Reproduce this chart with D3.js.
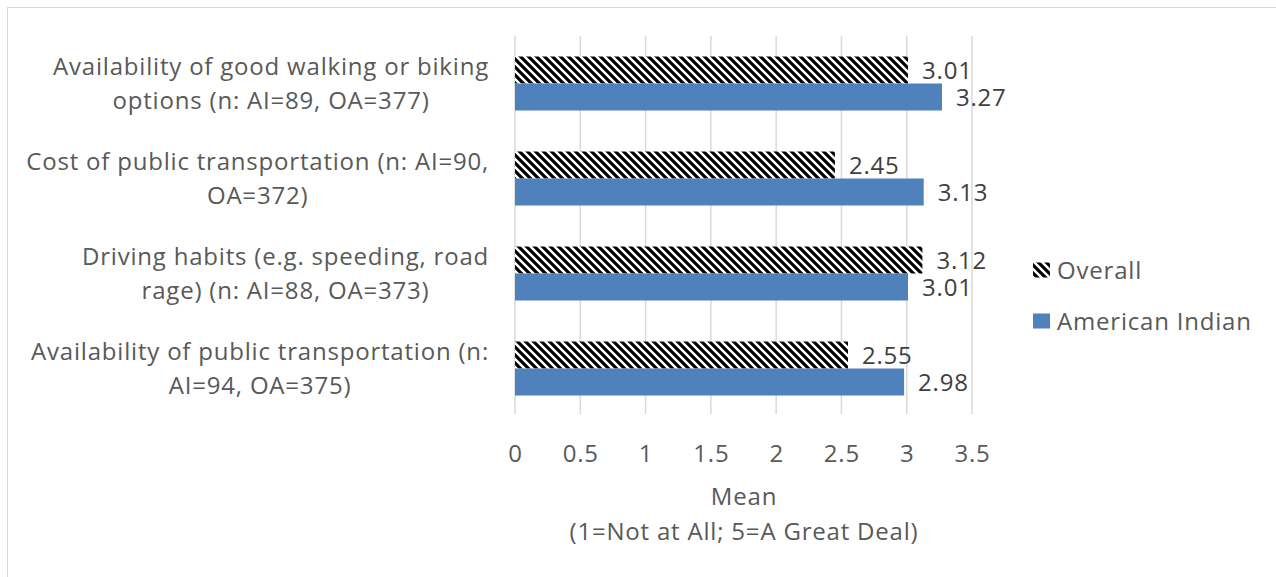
<!DOCTYPE html>
<html><head><meta charset="utf-8">
<script src="https://cdn.jsdelivr.net/npm/d3@7"></script>
<style>body{margin:0;background:#fff;} svg{display:block;font-family:"Open Sans",sans-serif;letter-spacing:0.8px;}</style>
</head><body><svg id="c" width="1276" height="577"></svg>
<script>
const categories = [
  ["Availability of good walking or biking", "options (n: AI=89, OA=377)"],
  ["Cost of public transportation (n: AI=90,", "OA=372)"],
  ["Driving habits (e.g. speeding, road", "rage) (n: AI=88, OA=373)"],
  ["Availability of public transportation (n:", "AI=94, OA=375)"]
];
const seriesNames = ["Overall", "American Indian"];
const overall = [3.01, 2.45, 3.12, 2.55];
const americanIndian = [3.27, 3.13, 3.01, 2.98];
const xTicks = [0, 0.5, 1, 1.5, 2, 2.5, 3, 3.5];
const xTitle = ["Mean", "(1=Not at All; 5=A Great Deal)"];

const FS = 24;
const svg = d3.select("#c");
const defs = svg.append("defs");
const pat = defs.append("pattern").attr("id","stripe").attr("patternUnits","userSpaceOnUse")
  .attr("width",8).attr("height",8);
pat.append("rect").attr("width",8).attr("height",8).attr("fill","#fff");
pat.append("path").attr("d","M-2,-2 L10,10 M-2,6 L2,10 M6,-2 L10,2").attr("stroke","#000").attr("stroke-width",3.2);

svg.append("rect").attr("x",7.5).attr("y",7.5).attr("width",1300).attr("height",600)
  .attr("fill","none").attr("stroke","#d9d9d9");

const x = d3.scaleLinear().domain([0,3.5]).range([515,972]);
const y = d3.scaleBand().domain(d3.range(categories.length)).range([36,416]);
const barH = 27;
const txt = "#595959";

// gridlines
svg.append("g").selectAll("line").data(xTicks).join("line")
  .attr("x1",d=>x(d)).attr("x2",d=>x(d)).attr("y1",36).attr("y2",414)
  .attr("stroke","#d9d9d9").attr("stroke-width",1.5);

// axis labels
const ax = d3.axisBottom(x).tickValues(xTicks).tickSize(0).tickPadding(0).tickFormat(d3.format(""));
const axG = svg.append("g").attr("transform","translate(0,454)").call(ax);
axG.select(".domain").remove();
axG.selectAll("text").attr("font-size",FS).attr("fill",txt).attr("font-family","Open Sans").attr("dy","0.35em");

// bars
const bars = svg.append("g");
categories.forEach((c,i)=>{
  const cy = y(i) + y.bandwidth()/2;
  bars.append("rect").attr("x",x(0)).attr("y",cy-barH).attr("width",x(overall[i])-x(0)).attr("height",barH)
    .attr("fill","url(#stripe)");
  bars.append("rect").attr("x",x(0)).attr("y",cy).attr("width",x(americanIndian[i])-x(0)).attr("height",barH)
    .attr("fill","#4F81BD");
  bars.append("text").attr("x",x(overall[i])+14).attr("y",cy-barH/2+1).attr("dy","0.35em")
    .attr("font-size",FS).attr("fill","#404040").text(overall[i].toFixed(2));
  bars.append("text").attr("x",x(americanIndian[i])+14).attr("y",cy+barH/2+1).attr("dy","0.35em")
    .attr("font-size",FS).attr("fill","#404040").text(americanIndian[i].toFixed(2));
  const t = svg.append("text").attr("text-anchor","middle").attr("font-size",FS).attr("fill",txt);
  const spans = c.map((ln,j)=> t.append("tspan").attr("y",cy-16.5+j*33.5).attr("dy","0.35em").text(ln));
  const maxW = d3.max(spans, s=>s.node().getComputedTextLength());
  spans.forEach(s=>s.attr("x",489 - maxW/2));
});

// x title
xTitle.forEach((t,j)=>{
  svg.append("text").attr("x",744).attr("y",497+j*35).attr("dy","0.35em").attr("text-anchor","middle")
    .attr("font-size",FS).attr("fill",txt).text(t);
});

// legend
const lg = svg.append("g");
const fills = ["url(#stripe)","#4F81BD"];
seriesNames.forEach((s,i)=>{
  const ly = 270 + i*51;
  lg.append("rect").attr("x",1033).attr("y",ly-7.5).attr("width",17).attr("height",15).attr("fill",fills[i]);
  lg.append("text").attr("x",1057).attr("y",ly+1).attr("dy","0.35em").attr("font-size",FS).attr("fill",txt).text(s);
});
</script></body></html>
